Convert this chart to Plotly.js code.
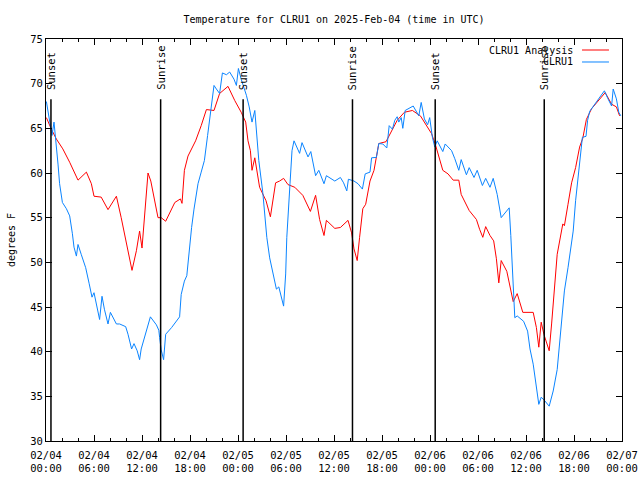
<!DOCTYPE html>
<html>
<head>
<meta charset="utf-8">
<script src="https://cdn.plot.ly/plotly-3.0.1.min.js"></script>
<style>html,body{margin:0;padding:0;background:#fff;}#chart{width:640px;height:480px;}</style>
</head>
<body>
<div id="chart"></div>
<script>
// Hours since 2025-02-04 00:00 UTC
const analysisHours = [0.05,0.67,1.3,2.1,2.96,4.0,5.05,5.67,6.0,6.9,7.75,8.8,9.4,10.1,10.75,11.3,11.7,12.0,12.2,12.46,12.75,13.1,14.0,14.4,14.96,16.1,16.8,17.0,17.3,17.75,18.7,19.4,20.05,21.0,21.7,22.75,23.6,24.4,24.96,25.25,25.55,25.75,26.1,26.7,27.5,28.05,28.7,29.2,29.7,30.25,31.1,32.1,33.05,33.7,34.2,34.75,35.05,36.1,36.8,37.75,38.2,38.5,38.9,39.2,39.6,39.96,40.5,41.0,41.6,42.5,43.2,43.9,44.8,45.8,46.8,47.55,48.2,48.7,49.1,49.6,50.25,50.9,51.6,51.9,52.9,53.8,54.2,54.6,54.96,55.5,55.96,56.3,56.6,56.9,57.6,58.05,58.4,58.9,59.6,60.9,61.3,61.6,61.9,62.25,62.9,63.2,63.6,63.9,64.6,64.8,65.25,65.7,66.2,66.7,67.1,67.55,68.2,69.0,69.9,70.7,71.3,71.7];
const analysisTemps = [66.2,64.9,63.8,62.7,61.2,59.2,60.1,58.8,57.4,57.3,55.9,57.4,55.0,52.0,49.1,51.3,53.5,51.6,53.7,56.9,60.0,59.1,55.0,55.0,54.6,56.7,57.1,56.6,60.3,61.9,63.6,65.3,67.1,67.0,68.9,69.7,68.1,66.8,65.7,63.6,62.5,60.3,61.7,58.4,56.9,55.1,58.9,59.1,59.4,58.7,58.4,57.5,55.7,57.5,54.8,53.0,54.7,53.8,53.9,54.7,53.3,51.5,50.2,52.8,56.0,56.5,59.1,60.3,63.3,63.5,64.7,65.9,66.8,67.0,66.4,65.3,64.4,63.1,61.9,60.3,59.9,59.2,59.2,57.6,55.8,54.8,53.7,52.8,54.0,53.0,52.4,50.4,47.7,50.2,49.0,47.2,45.6,46.5,44.4,44.4,42.7,40.5,43.3,41.9,40.1,43.1,47.2,50.9,54.3,54.1,56.5,58.9,60.6,62.9,63.9,66.0,67.2,68.1,69.0,67.7,67.4,66.4];

const obsHours = [0.05,0.25,0.46,0.75,1.0,1.2,1.5,1.7,2.05,2.55,2.96,3.3,3.5,3.8,4.0,4.4,4.96,5.4,5.75,6.0,6.4,6.7,7.0,7.3,7.75,8.05,8.8,9.2,9.96,10.25,10.7,11.0,11.4,11.7,11.9,12.5,13.05,13.8,14.1,14.2,14.4,14.7,14.96,15.7,16.7,16.9,17.3,17.6,17.9,18.2,18.5,19.0,19.4,19.8,20.2,20.5,21.0,21.3,21.7,22.05,22.55,22.96,23.5,23.8,24.05,24.4,25.05,25.4,25.75,26.1,26.3,26.6,27.1,27.6,27.96,28.4,28.8,29.1,29.4,29.7,29.96,30.1,30.5,30.75,31.0,31.4,31.7,32.0,32.3,32.75,33.1,33.4,33.7,34.1,34.4,34.75,35.05,35.5,36.1,36.8,37.2,37.6,37.8,38.5,39.0,39.55,39.9,40.5,40.7,41.3,41.6,42.1,42.6,42.9,43.3,43.6,43.9,44.1,44.4,44.6,44.9,45.9,46.6,46.9,47.3,47.7,47.96,48.3,48.6,48.9,49.3,49.6,49.9,50.7,51.1,51.6,51.9,52.55,52.9,53.5,53.9,54.55,54.96,55.5,55.9,56.4,56.9,57.9,58.1,58.3,58.6,58.9,59.7,60.2,60.5,60.9,61.3,61.6,61.9,62.25,62.9,63.4,63.9,64.3,64.8,65.25,65.9,66.2,66.5,66.8,67.05,67.5,67.7,67.96,68.6,69.3,69.8,70.25,70.7,70.9,71.3,71.6,71.85];
const obsTemps = [68.0,66.8,65.5,64.2,65.7,64.0,61.0,58.8,56.7,56.0,55.2,53.2,51.7,50.7,52.0,50.9,49.4,47.6,46.1,46.6,44.9,43.6,46.2,44.75,43.1,44.4,43.1,43.1,42.8,41.95,40.3,40.9,40.1,39.1,40.3,42.3,43.9,43.0,42.4,41.6,40.2,39.1,41.95,42.7,43.9,46.4,47.9,48.5,51.3,53.9,55.96,58.8,60.1,61.4,64.2,66.2,69.8,69.4,68.9,71.2,71.0,71.3,70.5,69.8,71.7,70.5,68.7,67.4,65.7,67.0,64.4,61.4,57.8,52.8,50.5,48.7,47.0,47.25,46.1,45.1,48.7,52.8,58.8,62.5,63.6,62.9,62.2,63.4,62.7,61.8,62.4,61.2,59.7,60.3,59.5,58.8,59.7,59.4,59.1,59.5,58.9,58.0,59.3,59.1,58.8,58.2,59.9,60.1,61.7,61.75,63.3,63.25,62.8,65.3,64.9,65.9,66.3,65.7,66.2,65.0,67.0,67.5,66.4,67.9,66.05,65.4,66.2,64.0,62.9,63.6,62.9,62.4,63.25,62.5,61.6,60.3,61.5,59.8,60.6,59.5,60.3,58.6,59.4,58.4,59.4,57.6,55.0,56.1,53.0,48.7,43.8,44.0,43.4,42.3,40.3,38.6,35.8,34.1,34.9,34.6,33.9,35.6,38.0,41.95,46.8,49.4,53.5,56.9,59.5,62.3,64.0,64.1,65.9,66.9,67.7,68.55,69.2,68.3,67.5,69.4,68.3,66.8,66.4];

const eventHours = [0.62, 14.33, 24.64, 38.31, 48.65, 62.28];
const eventLabels = ["Sunset","Sunrise","Sunset","Sunrise","Sunset","Sunrise"];

const tickHours = [0,6,12,18,24,30,36,42,48,54,60,66,72];
const tickLabels = ["02/04<br>00:00","02/04<br>06:00","02/04<br>12:00","02/04<br>18:00","02/05<br>00:00","02/05<br>06:00","02/05<br>12:00","02/05<br>18:00","02/06<br>00:00","02/06<br>06:00","02/06<br>12:00","02/06<br>18:00","02/07<br>00:00"];

const seriesNames = ["CLRU1 Analysis", "CLRU1"];
const seriesColors = ["#ff0000", "#0a84ff"];

const FONT = "DejaVu Sans Mono, Liberation Mono, monospace";

const traces = [
  {x: analysisHours, y: analysisTemps, type: "scatter", mode: "lines", name: seriesNames[0], line: {color: seriesColors[0], width: 1}},
  {x: obsHours, y: obsTemps, type: "scatter", mode: "lines", name: seriesNames[1], line: {color: seriesColors[1], width: 1}}
];

const shapes = [];
const annotations = [];
eventHours.forEach((h, i) => {
  shapes.push({type: "line", xref: "x", yref: "paper", x0: h, x1: h, y0: 0, y1: 0.85, line: {color: "#000", width: 1.5}});
  annotations.push({xref: "x", yref: "paper", x: h, y: 0.868, text: eventLabels[i], textangle: -90, showarrow: false, xanchor: "center", yanchor: "bottom", font: {family: FONT, size: 10.5, color: "#000"}});
});

// Legend (gnuplot style: text then sample line)
const legY = [0.9726, 0.9428];
seriesNames.forEach((n, i) => {
  annotations.push({xref: "paper", yref: "paper", x: 0.918, y: legY[i], text: n, showarrow: false, xanchor: "right", yanchor: "middle", font: {family: FONT, size: 10, color: "#000"}});
  shapes.push({type: "line", xref: "paper", yref: "paper", x0: 0.9306, x1: 0.9774, y0: legY[i], y1: legY[i], line: {color: seriesColors[i], width: 1}});
});

const layout = {
  width: 640, height: 480,
  margin: {l: 46, r: 18, t: 39, b: 39},
  paper_bgcolor: "#fff", plot_bgcolor: "#fff",
  showlegend: false,
  font: {family: FONT, size: 10.5, color: "#000"},
  title: {text: "Temperature for CLRU1 on 2025-Feb-04 (time in UTC)", font: {family: FONT, size: 10, color: "#000"}, x: 0.522, xanchor: "center", y: 0.96, yanchor: "middle"},
  xaxis: {
    range: [0, 72], tickmode: "array", tickvals: tickHours, ticktext: tickLabels,
    showgrid: false, zeroline: false, showline: true, linecolor: "#000", linewidth: 1, mirror: "allticks",
    ticks: "inside", ticklen: 6, tickcolor: "#000", ticklabelstandoff: 4,
    minor: {dtick: 2, ticks: "inside", ticklen: 3, tickcolor: "#000", showgrid: false},
    tickfont: {family: FONT, size: 10.5, color: "#000"}
  },
  yaxis: {
    range: [30, 75], dtick: 5, tick0: 30,
    showgrid: false, zeroline: false, showline: true, linecolor: "#000", linewidth: 1, mirror: "allticks",
    ticks: "inside", ticklen: 6, tickcolor: "#000",
    tickfont: {family: FONT, size: 10.5, color: "#000"},
    title: {text: "degrees F", font: {family: FONT, size: 10, color: "#000"}, standoff: 12}
  },
  shapes: shapes,
  annotations: annotations
};

Plotly.newPlot("chart", traces, layout, {staticPlot: true, displayModeBar: false});
</script>
</body>
</html>
